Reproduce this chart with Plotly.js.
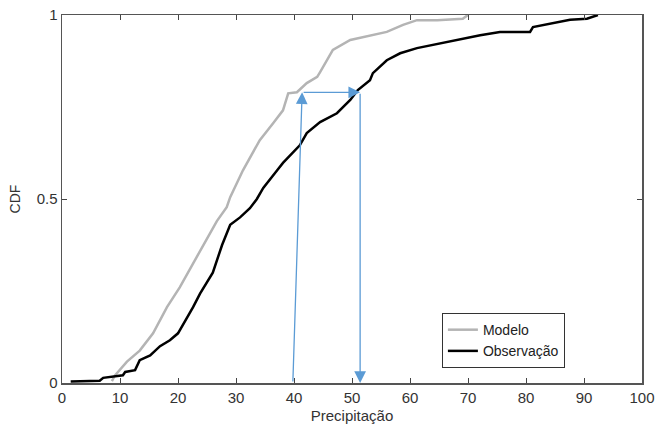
<!DOCTYPE html>
<html>
<head>
<meta charset="utf-8">
<script src="https://cdn.plot.ly/plotly-3.0.1.min.js"></script>
<style>html,body{margin:0;padding:0;background:#fff;}#chart{width:655px;height:433px;}</style>
</head>
<body>
<div id="chart"></div>
<script>
// Observação (black) ECDF
const obsX = [1.5, 6.5, 7.1, 10.5, 10.9, 12.6, 13.4, 15.2, 16.9, 18.6, 20.0, 21.5, 22.6, 23.8, 25.2, 26.0, 27.6, 29.0, 30.7, 32.4, 33.6, 34.7, 37.1, 38.1, 41.0, 42.2, 44.5, 47.4, 49.7, 51.0, 53.1, 53.6, 56.0, 58.3, 61.2, 65.2, 69.1, 72.1, 75.5, 80.7, 81.2, 84.7, 87.6, 90.5, 92.4];
const obsY = [0.004, 0.006, 0.014, 0.021, 0.030, 0.035, 0.062, 0.075, 0.100, 0.116, 0.135, 0.176, 0.206, 0.243, 0.280, 0.300, 0.375, 0.430, 0.450, 0.475, 0.500, 0.530, 0.578, 0.598, 0.646, 0.679, 0.709, 0.733, 0.769, 0.796, 0.823, 0.842, 0.877, 0.896, 0.910, 0.923, 0.937, 0.945, 0.954, 0.954, 0.967, 0.978, 0.987, 0.990, 1.000];
// Modelo (gray) ECDF
const modX = [8.6, 9.1, 11.2, 13.4, 15.7, 16.9, 18.1, 20.3, 22.6, 25.0, 26.7, 28.4, 29.0, 31.2, 31.9, 34.1, 36.4, 38.1, 39.0, 40.5, 42.2, 44.0, 44.5, 46.7, 49.7, 53.1, 56.0, 58.8, 61.2, 64.7, 69.1, 70.0];
const modY = [0.005, 0.020, 0.058, 0.088, 0.135, 0.170, 0.206, 0.260, 0.325, 0.392, 0.440, 0.478, 0.505, 0.578, 0.597, 0.660, 0.706, 0.741, 0.787, 0.790, 0.815, 0.832, 0.845, 0.905, 0.932, 0.945, 0.954, 0.973, 0.986, 0.986, 0.990, 1.000];
// Quantile-mapping arrow path
const arrowX = [39.8, 41.4, 51.4, 51.4];
const arrowY = [0, 0.79, 0.79, 0];
const xTicks = [0, 10, 20, 30, 40, 50, 60, 70, 80, 90, 100];
const yTicks = [0, 0.5, 1];
const yTickText = ['0', '0.5', '1'];

const traces = [
  {x: modX, y: modY, mode: 'lines', name: 'Modelo', line: {color: '#b4b4b4', width: 2.5}},
  {x: obsX, y: obsY, mode: 'lines', name: 'Observação', line: {color: '#000000', width: 2.5}}
];

const arrowColor = '#5b9bd5';
const annotations = [];
for (let i = 1; i < arrowX.length; i++) {
  annotations.push({
    x: arrowX[i], y: arrowY[i], ax: arrowX[i-1], ay: arrowY[i-1],
    xref: 'x', yref: 'y', axref: 'x', ayref: 'y',
    text: '', showarrow: true, arrowhead: 2, arrowsize: 1.8, arrowwidth: 1.3,
    arrowcolor: arrowColor, standoff: 0, startstandoff: 0
  });
}

const layout = {
  width: 655, height: 433,
  margin: {l: 62, r: 13, t: 15, b: 50},
  paper_bgcolor: '#ffffff', plot_bgcolor: '#ffffff',
  font: {family: 'Liberation Sans, Arial, sans-serif', size: 15, color: '#333'},
  showlegend: true,
  legend: {
    x: 0.655, y: 0.19, xanchor: 'left', yanchor: 'top',
    bgcolor: '#ffffff', bordercolor: '#333', borderwidth: 1,
    font: {size: 14, color: '#222'}, itemwidth: 30, tracegroupgap: 0,
    entrywidth: 148
  },
  xaxis: {
    range: [0, 100], tickvals: xTicks, ticks: 'inside', ticklen: 5, tickcolor: '#444',
    showline: true, linecolor: '#555', linewidth: 1.5, mirror: 'ticks',
    showgrid: false, zeroline: false,
    title: {text: 'Precipitação', font: {size: 15, color: '#333'}, standoff: 6},
    tickfont: {size: 15, color: '#333'}
  },
  yaxis: {
    range: [0, 1], tickvals: yTicks, ticktext: yTickText, ticks: 'inside', ticklen: 5, tickcolor: '#444',
    showline: true, linecolor: '#555', linewidth: 1.5, mirror: 'ticks',
    showgrid: false, zeroline: false,
    title: {text: 'CDF', font: {size: 14, color: '#333'}, standoff: 12},
    tickfont: {size: 15, color: '#333'}
  },
  annotations: annotations
};

Plotly.newPlot('chart', traces, layout, {displayModeBar: false, staticPlot: true});
</script>
</body>
</html>
